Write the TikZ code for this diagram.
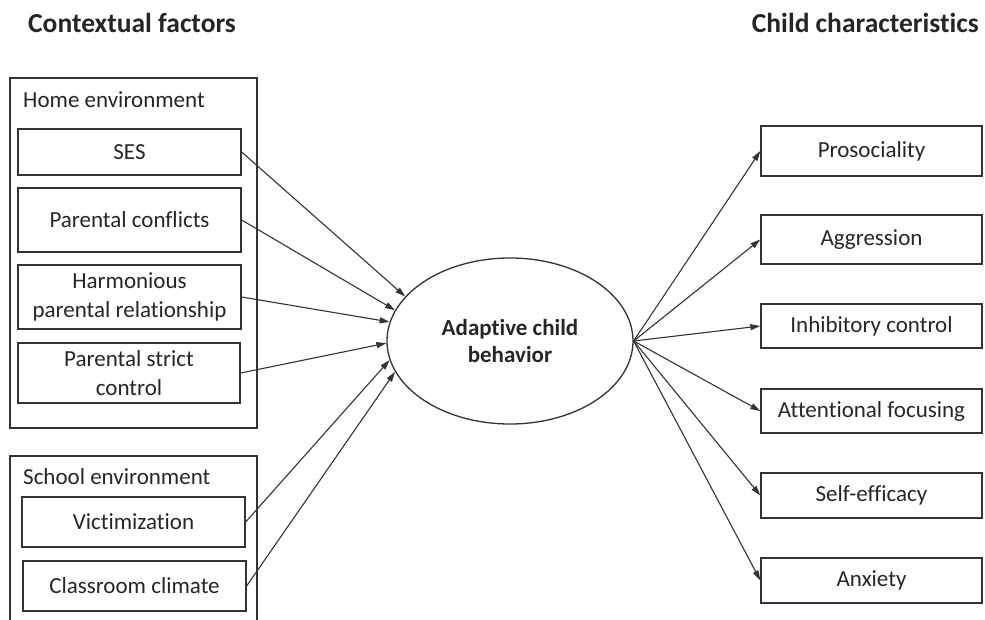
\documentclass[tikz,border=0pt]{standalone}
\usepackage{fontspec}
\setmainfont{Carlito}[Ligatures=NoCommon]
\usetikzlibrary{shapes.geometric,arrows.meta}
\definecolor{txt}{HTML}{262626}
\definecolor{ln}{HTML}{333333}
\tikzset{
  boxtext/.style={font=\fontsize{23}{28.5}\selectfont, text=txt},
  itembox/.style={boxtext, draw=ln, line width=1.3pt, rectangle, inner sep=0pt, align=center, anchor=center},
  groupbox/.style={draw=ln, line width=1.1pt},
  title/.style={font=\bfseries\fontsize{27.5}{32}\selectfont, text=txt, inner sep=0pt},
  grouplabel/.style={boxtext, inner sep=0pt, anchor=west},
  link/.style={draw=ln, line width=1.1pt, -{Triangle[length=10pt,width=6pt]}},
}
\begin{document}
\begin{tikzpicture}[x=1pt,y=-1pt]
\useasboundingbox (0,0) rectangle (985,620);
% titles
\node[title, anchor=west] (tl) at (28,23) {Contextual factors};
\node[title, anchor=east] (tr) at (979,23) {Child characteristics};
% group boxes
\draw[groupbox] (10,78) rectangle (257,428);
\draw[groupbox] (10,622) -- (10,456) -- (257,456) -- (257,622);
\node[grouplabel] (homel) at (23,100) {Home environment};
\node[grouplabel] (schooll) at (23,477) {School environment};
% left boxes
\node[itembox, minimum width=223pt, minimum height=46pt] (ses) at (129.5,152) {SES};
\node[itembox, minimum width=223pt, minimum height=64pt] (conf) at (129.5,220) {Parental conflicts};
\node[itembox, minimum width=223pt, minimum height=64pt] (harm) at (129.5,297) {Harmonious\\parental relationship};
\node[itembox, minimum width=222pt, minimum height=60pt] (strict) at (129,373) {Parental strict\\control};
\node[itembox, minimum width=223pt, minimum height=50pt] (vict) at (133.5,522) {Victimization};
\node[itembox, minimum width=223pt, minimum height=50pt] (clim) at (134.5,586) {Classroom climate};
% ellipse
\node[ellipse, draw=ln, line width=1.3pt, minimum width=246pt, minimum height=166pt, inner sep=0pt, align=center,
      font=\bfseries\fontsize{23}{27}\selectfont, text=txt] (acb) at (510,341) {Adaptive child\\behavior};
% right boxes
\node[itembox, minimum width=221pt, minimum height=50pt] (pro) at (871.5,151) {Prosociality};
\node[itembox, minimum width=221pt, minimum height=49pt] (agg) at (871.5,239.5) {Aggression};
\node[itembox, minimum width=221pt, minimum height=44pt] (inh) at (871.5,326) {Inhibitory control};
\node[itembox, minimum width=221pt, minimum height=44pt] (att) at (871.5,411) {Attentional focusing};
\node[itembox, minimum width=221pt, minimum height=45pt] (self) at (871.5,495.5) {Self-efficacy};
\node[itembox, minimum width=221pt, minimum height=45pt] (anx) at (871.5,580.5) {Anxiety};
% left arrows
\draw[link] (ses.east) -- (acb.157);
\draw[link] (conf.east) -- (acb.165.5);
\draw[link] (harm.east) -- (acb.171.5);
\draw[link] (strict.east) -- (acb.181);
\draw[link] (vict.east) -- (acb.189.5);
\draw[link] (clim.east) -- (acb.195);
% right arrows
\draw[link] (acb.east) -- (pro.west);
\draw[link] (acb.east) -- (agg.west);
\draw[link] (acb.east) -- (inh.west);
\draw[link] (acb.east) -- (att.west);
\draw[link] (acb.east) -- (self.west);
\draw[link] (acb.east) -- (anx.west);
\end{tikzpicture}
\end{document}
